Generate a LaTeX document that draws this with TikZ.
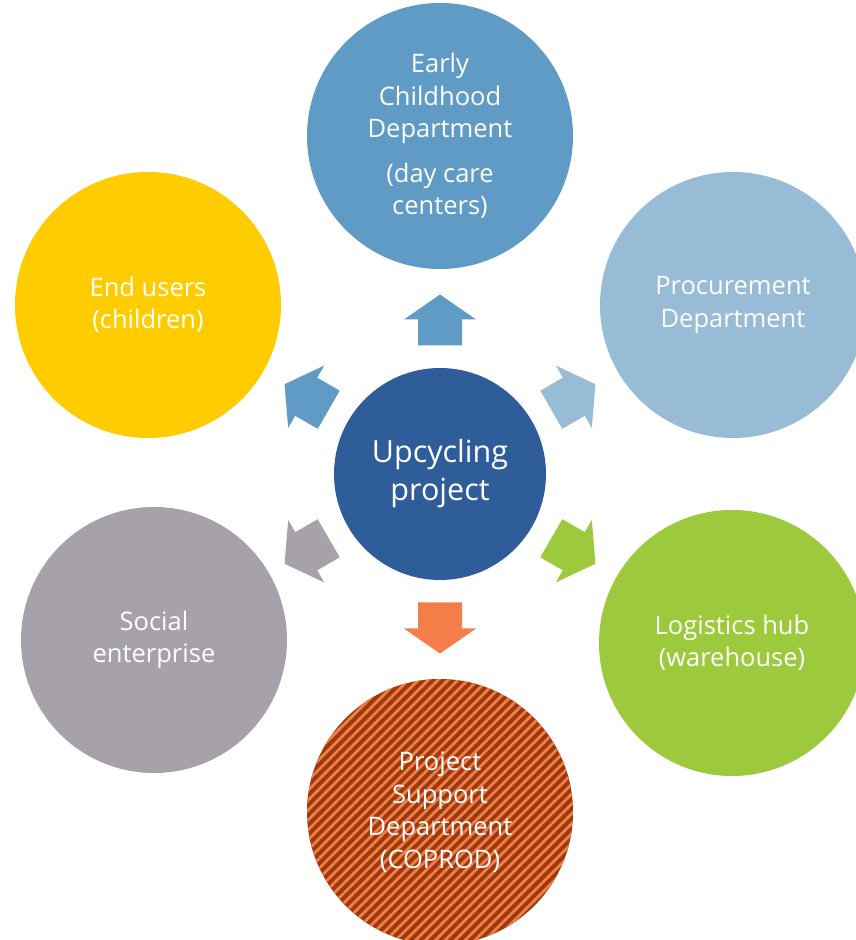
\documentclass[tikz,border=0pt]{standalone}
\usepackage{fontspec}
\setmainfont{Open Sans}
\usetikzlibrary{calc,patterns.meta}
\definecolor{projblue}{HTML}{2F5D9A}
\definecolor{ecdblue}{HTML}{5F9BC5}
\definecolor{procblue}{HTML}{98BBD6}
\definecolor{usersyellow}{HTML}{FFCC00}
\definecolor{logigreen}{HTML}{9DC93C}
\definecolor{socgray}{HTML}{A7A2AA}
\definecolor{supporange}{HTML}{F47D4A}
\definecolor{suppbrown}{HTML}{9B3B0C}
\tikzset{
  partner/.style={shape=circle,minimum size=266pt,inner sep=0pt,text=white,align=center,
    font=\fontsize{25.5}{32.5}\selectfont},
  blockarrow/.pic={\fill[#1] (-25.5,-22) -- (0.5,-22) -- (0.5,-36) -- (25.5,0) -- (0.5,36) -- (0.5,22) -- (-25.5,22) -- cycle;}
}
\begin{document}
\begin{tikzpicture}[x=1pt,y=1pt]
\useasboundingbox (0,0) rectangle (856,940);
\clip (0,0) rectangle (856,940);
\node[partner,fill=ecdblue] (ecd) at (440,804) {Early\\Childhood\\Department\\[12pt](day care\\centers)};
\node[partner,fill=procblue] (proc) at (733,635) {Procurement\\Department};
\node[partner,fill=logigreen] (logi) at (732,297) {Logistics hub\\(warehouse)};
\node[partner,fill=suppbrown,postaction={pattern={Lines[angle=45,distance=7pt,line width=2.8pt]},pattern color=supporange}] (supp) at (440,128) {Project\\Support\\Department\\(COPROD)};
\node[partner,fill=socgray] (soc) at (154,300) {Social\\enterprise};
\node[partner,fill=usersyellow] (users) at (148,635) {End users\\(children)};
\node[shape=circle,fill=projblue,minimum size=212pt,inner sep=0pt,text=white,align=center,
  font=\fontsize{30.5}{38}\selectfont] (proj) at (440,466) {Upcycling\\project};
\pic[rotate=90] at ($(proj)+(90:154)$) {blockarrow=ecdblue};
\pic[rotate=30] at ($(proj)+(30:154)$) {blockarrow=procblue};
\pic[rotate=-30] at ($(proj)+(-30:154)$) {blockarrow=logigreen};
\pic[rotate=-90] at ($(proj)+(-90:154)$) {blockarrow=supporange};
\pic[rotate=210] at ($(proj)+(210:154)$) {blockarrow=socgray};
\pic[rotate=150] at ($(proj)+(150:154)$) {blockarrow=ecdblue};
\end{tikzpicture}
\end{document}
